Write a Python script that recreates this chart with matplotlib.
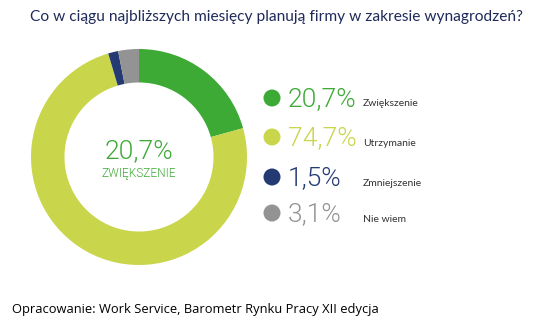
import matplotlib

matplotlib.use("Agg")

import matplotlib.pyplot as plt

# Survey answers (share of firms, %)
labels = ["Zwiększenie", "Utrzymanie", "Zmniejszenie", "Nie wiem"]
values = [20.7, 74.7, 1.5, 3.1]
colors = ["#3DAA35", "#C9D54B", "#233A73", "#939393"]

title = "Co w ciągu najbliższych miesięcy planują firmy w zakresie wynagrodzeń?"
source = "Opracowanie: Work Service, Barometr Rynku Pracy XII edycja"

W, H = 538, 326
fig = plt.figure(figsize=(W / 100, H / 100), dpi=100)

# Donut, placed in pixel coordinates
cx, cy, r = 139, 157, 108
ax = fig.add_axes([(cx - r) / W, (H - cy - r) / H, 2 * r / W, 2 * r / H])
ax.pie(
    values,
    colors=colors,
    startangle=90,
    counterclock=False,
    radius=1.0,
    wedgeprops=dict(width=0.31, edgecolor="none"),
)
ax.set_xlim(-1, 1)
ax.set_ylim(-1, 1)
ax.set_aspect("auto")
ax.axis("off")

big = dict(family="Roboto", fontweight=300)

ax.text(0, 0.05, f"{values[0]:.1f}%".replace(".", ","), ha="center", va="center",
        fontsize=19, color=colors[0], **big)
ax.text(0, -0.15, labels[0].upper(), ha="center", va="center",
        fontsize=8.6, color=colors[0], **big)

# Overlay in pixel units for the legend and texts
ov = fig.add_axes([0, 0, 1, 1])
ov.set_xlim(0, W)
ov.set_ylim(H, 0)
ov.axis("off")

ov.text(30, 17, title, ha="left", va="center", fontsize=11.2,
        color="#1F2A5A", family="Lato")

rows = [98, 137, 177, 213]
for y, lab, val, col in zip(rows, labels, values, colors):
    ov.scatter([272], [y], s=150, color=col, edgecolor="none")
    ov.text(288, y + 1, f"{val:.1f}%".replace(".", ","), ha="left", va="center",
            fontsize=19, color=col, **big)
    ov.text(363, y + 6, lab, ha="left", va="center", fontsize=7.5,
            color="#333333", family="Lato")

ov.text(12, 309, source, ha="left", va="center", fontsize=9.3,
        color="black", family="Open Sans")

fig.savefig("out.png", dpi=100)
